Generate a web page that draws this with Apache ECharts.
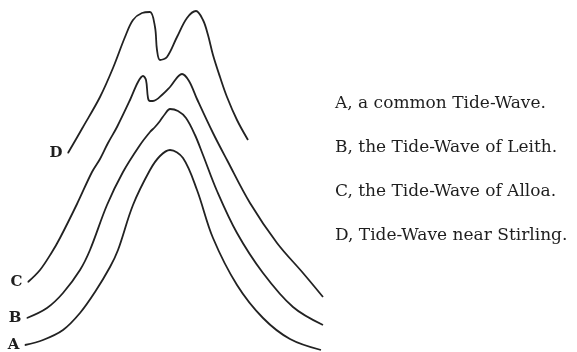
<!DOCTYPE html>
<html>
<head>
<meta charset="utf-8">
<script src="https://cdn.jsdelivr.net/npm/echarts@6/dist/echarts.min.js"></script>
<style>html,body{margin:0;padding:0;background:#fff}#c{width:577px;height:352px}</style>
</head>
<body>
<div id="c"></div>
<script>
// x = time across the tide, y = height (picture units, downward)
const waveNames = ["A, a common Tide-Wave.", "B, the Tide-Wave of Leith.", "C, the Tide-Wave of Alloa.", "D, Tide-Wave near Stirling."];
const waveLetters = ["A", "B", "C", "D"];

const waveA = [[25,345],[43,340],[63,330],[80,313],[95,292],[110,267],[118,250],[133,205],[150,170],[160,156],[170,150],[183,158],[197,190],[213,238],[237,285],[263,318],[290,339],[321,350]];
const waveB = [[27,318],[47,308],[63,293],[80,270],[90,250],[107,205],[123,172],[140,145],[150,132],[155,127],[160,121],[165,114],[170,109],[178,111],[186,118],[195,135],[203,155],[217,191],[237,233],[263,273],[293,307],[323,325]];
const waveC = [[28,282],[40,270],[52,252],[60,238],[77,204],[92,172],[100,159],[108,143],[117,127],[130,100],[138,82],[143,76],[146,80],[148,98],[150,101],[153,101],[163,94],[170,87],[182,74],[189,81],[197,99],[213,133],[227,160],[250,203],[277,243],[303,273],[323,297]];
const waveD = [[68,153],[83,127],[100,97],[113,68],[125,37],[133,20],[142,13],[150,12],[155,27],[157,50],[160,60],[167,57],[177,37],[187,18],[196,11],[203,20],[208,35],[213,55],[220,77],[227,97],[237,120],[248,140]];

const waves = [waveA, waveB, waveC, waveD];

const chart = echarts.init(document.getElementById('c'), null, {renderer: 'canvas'});

const series = waves.map((pts, k) => ({
  name: waveNames[k],
  type: 'line',
  smooth: 0.35,
  symbol: 'none',
  animation: false,
  lineStyle: {color: '#222222', width: 1.8},
  itemStyle: {color: '#222222'},
  emphasis: {disabled: true},
  data: pts.map((p, i) => i === 0 ? {
    value: p,
    symbol: 'circle',
    symbolSize: 1,
    label: {
      show: true, position: 'left', distance: 5,
      formatter: waveLetters[k],
      fontFamily: 'DejaVu Serif', fontWeight: 'bold', fontSize: 15, color: '#1e1e1e'
    }
  } : p)
}));

chart.setOption({
  backgroundColor: '#ffffff',
  animation: false,
  grid: {left: 0, right: 0, top: 0, bottom: 0},
  xAxis: {type: 'value', min: 0, max: 577, show: false},
  yAxis: {type: 'value', min: 0, max: 352, inverse: true, show: false},
  legend: {
    data: waveNames,
    orient: 'vertical',
    left: 325,
    top: 88,
    icon: 'none',
    itemWidth: 0,
    itemHeight: 14,
    itemGap: 22,
    selectedMode: false,
    textStyle: {fontFamily: 'DejaVu Serif', fontSize: 17, color: '#1e1e1e', lineHeight: 22}
  },
  series: series
});
</script>
</body>
</html>
